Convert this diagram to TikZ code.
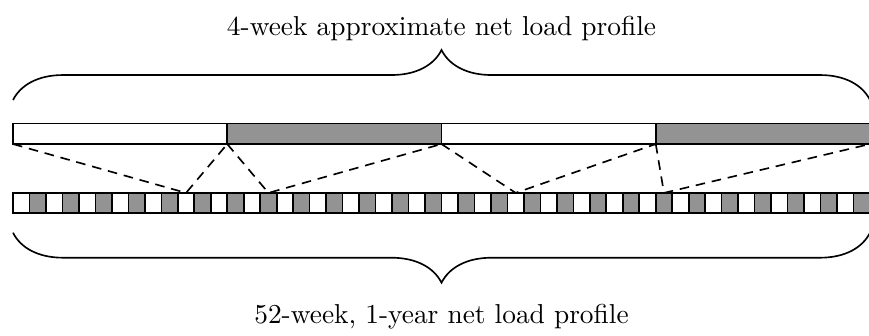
\documentclass[tikz,border=0pt]{standalone}
\usetikzlibrary{decorations.pathreplacing}

\tikzset{
  week/.style={draw, line width=0.6pt, minimum width=0.21154cm, minimum height=0.262cm,
    inner sep=0pt, outer sep=0pt, anchor=south west},
  block/.style={draw, line width=0.6pt, minimum width=2.75cm, minimum height=0.264cm,
    inner sep=0pt, outer sep=0pt, anchor=south west},
  hot/.style={fill=gray!85},
  cold/.style={fill=white},
  curly/.style={decorate, line width=0.6pt, decoration={brace, amplitude=0.642cm}},
  link/.style={line width=0.6pt, dash pattern=on 3.5pt off 2.5pt},
}

\begin{document}
\begin{tikzpicture}
\useasboundingbox (0,0) rectangle (11.154,4.300);

% 52-week, 1-year profile
\foreach \i in {0,...,51}{
  \pgfmathtruncatemacro\odd{mod(\i,2)}
  \ifnum\odd=1 \def\kind{hot}\else\def\kind{cold}\fi
  \node[week,\kind] (w\i) at ({0.167+\i*0.21154},1.562) {};
}

% 4-week approximation
\foreach \j/\c in {1/cold,2/hot,3/cold,4/hot}
  \node[block,\c] (b\j) at ({0.167+(\j-1)*2.75},2.451) {};

% representative weeks
\foreach \j/\w in {1/10,2/15,3/30,4/39}
  \draw[link] (b\j.south west) -- (w\w.north) -- (b\j.south east);

% braces
\coordinate (tl) at (0.167,3.016);
\coordinate (tr) at (11.167,3.016);
\coordinate (bl) at (0.167,1.313);
\coordinate (br) at (11.167,1.313);
\draw[curly] (tl) -- (tr);
\draw[curly] (br) -- (bl);

\node[anchor=base] (toplabel) at (5.667,3.85) {4-week approximate net load profile};
\node[anchor=base] (botlabel) at (5.667,0.154) {52-week, 1-year net load profile};
\end{tikzpicture}
\end{document}
